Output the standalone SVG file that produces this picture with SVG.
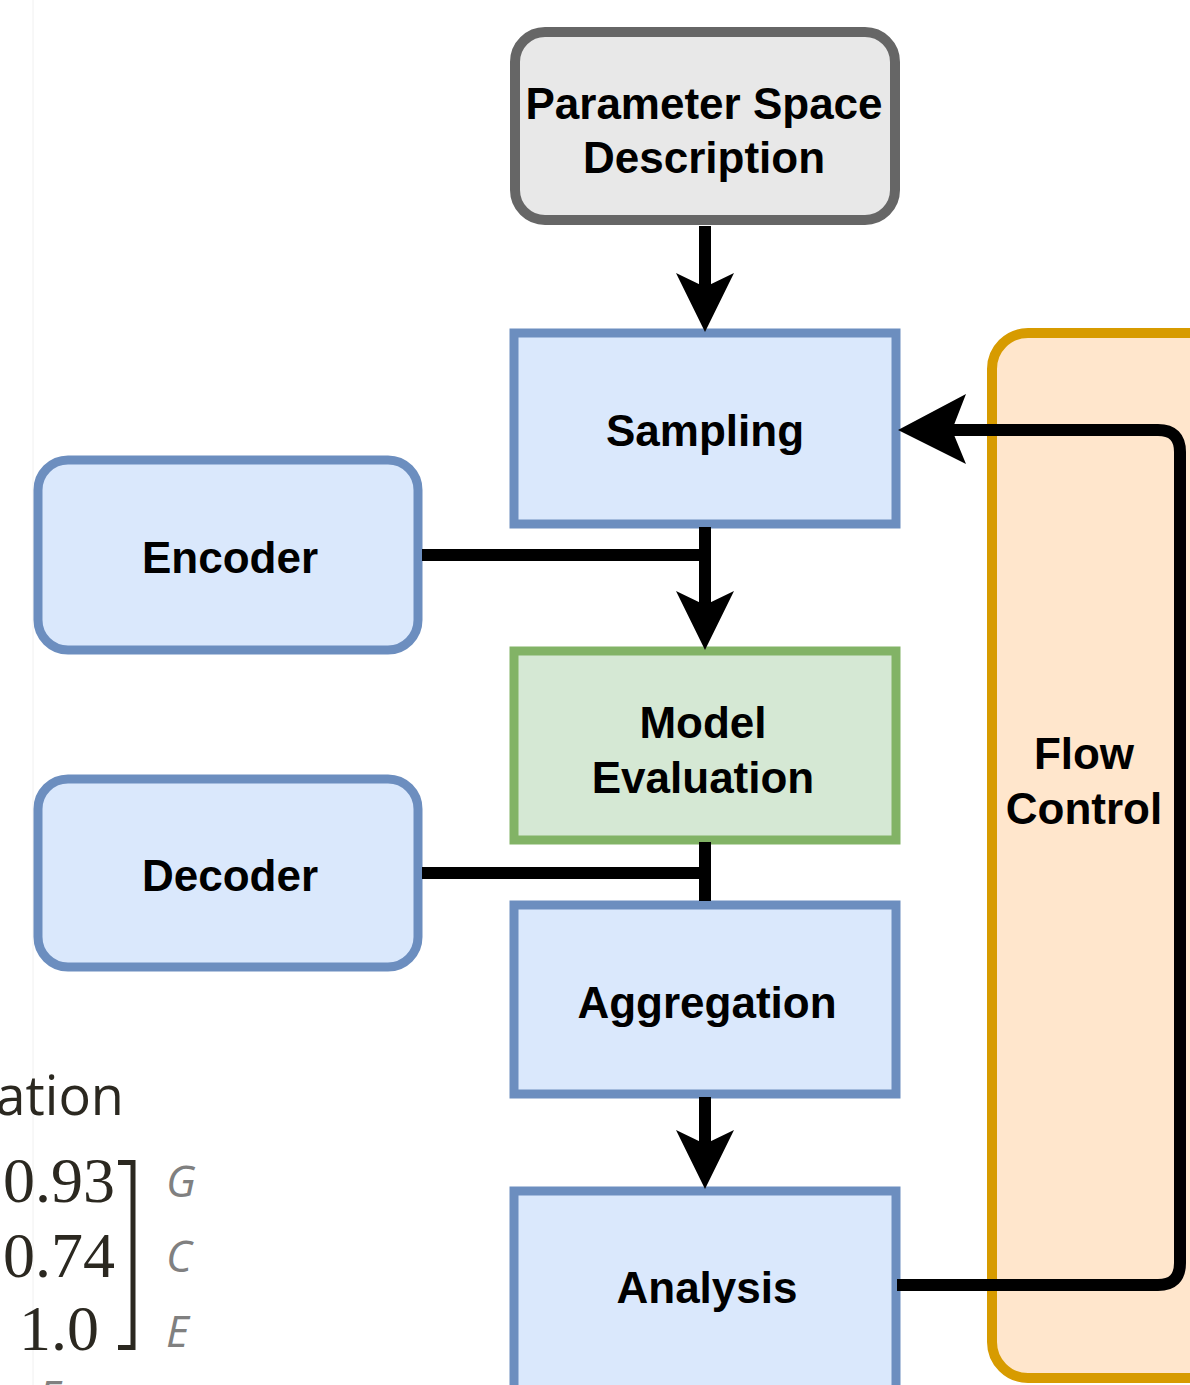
<svg xmlns="http://www.w3.org/2000/svg" width="1190" height="1385" viewBox="0 0 1190 1385">
  <style>
    .lbl { font-family: "Liberation Sans", Arial, sans-serif; font-weight: bold; font-size: 44px; fill: #000; text-anchor: middle; }
    .blue { fill: #dae8fc; stroke: #6c8ebf; stroke-width: 9; }
    .green { fill: #d5e8d4; stroke: #82b366; stroke-width: 9; }
    .grey { fill: #e8e8e8; stroke: #666666; stroke-width: 10; }
    .orange { fill: #ffe6cc; stroke: #d79b00; stroke-width: 10; }
    .wire { fill: none; stroke: #000; stroke-width: 12; }
    .head { fill: #000; stroke: none; }
    .num { font-family: "Liberation Serif", "Times New Roman", serif; font-size: 64px; fill: #2b2820; text-anchor: middle; }
    .var { font-family: "Open Sans", "Noto Sans", sans-serif; font-style: italic; font-size: 44px; fill: #808080; }
  </style>

  <rect width="1190" height="1385" fill="#ffffff"/>

  <!-- partial equation visible at lower left -->
  <g id="equation-fragment">
    <line x1="33" y1="0" x2="33" y2="1385" stroke="#f0f0f0" stroke-width="1"/>
    <text x="124" y="1115" font-family="'Open Sans', 'Noto Sans', sans-serif" font-size="54" fill="#2b2820" text-anchor="end">ation</text>
    <text class="num" x="59" y="1202">0.93</text>
    <text class="num" x="59" y="1277">0.74</text>
    <text class="num" x="59" y="1350">1.0</text>
    <path d="M118 1162.5 H133 V1347.5 H118" fill="none" stroke="#2b2820" stroke-width="5"/>
    <text class="var" x="166" y="1197">G</text>
    <text class="var" x="166" y="1272">C</text>
    <text class="var" x="166" y="1347">E</text>
    <text class="var" x="38" y="1412">E</text>
  </g>

  <!-- flow control column (drawn first so the loop passes over it) -->
  <g id="flow-control">
    <rect class="orange" x="992" y="333" width="260" height="1045" rx="36"/>
    <text class="lbl" x="1084" y="769">Flow</text>
    <text class="lbl" x="1084" y="824">Control</text>
  </g>

  <g id="parameter-space">
    <rect class="grey" x="515" y="32" width="380" height="188" rx="30"/>
    <text class="lbl" x="704" y="119">Parameter Space</text>
    <text class="lbl" x="704" y="173">Description</text>
  </g>

  <g id="sampling">
    <rect class="blue" x="514" y="333" width="382" height="191"/>
    <text class="lbl" x="705" y="446">Sampling</text>
  </g>

  <g id="encoder">
    <rect class="blue" x="38" y="460" width="380" height="190" rx="30"/>
    <text class="lbl" x="230" y="573">Encoder</text>
  </g>

  <g id="model-evaluation">
    <rect class="green" x="514" y="651" width="382" height="189"/>
    <text class="lbl" x="703" y="738">Model</text>
    <text class="lbl" x="703" y="793">Evaluation</text>
  </g>

  <g id="decoder">
    <rect class="blue" x="38" y="779" width="380" height="188" rx="30"/>
    <text class="lbl" x="230" y="891">Decoder</text>
  </g>

  <g id="aggregation">
    <rect class="blue" x="514" y="905" width="382" height="189"/>
    <text class="lbl" x="707" y="1018">Aggregation</text>
  </g>

  <g id="analysis">
    <rect class="blue" x="514" y="1191" width="382" height="230"/>
    <text class="lbl" x="707" y="1303">Analysis</text>
  </g>

  <g id="connectors">
    <!-- parameter space -> sampling -->
    <line class="wire" x1="705" y1="226" x2="705" y2="290"/>
    <polygon class="head" points="705,332 676,273 705,287 734,273"/>

    <!-- sampling -> model evaluation, with encoder joining -->
    <line class="wire" x1="705" y1="527" x2="705" y2="607"/>
    <line class="wire" x1="422" y1="555" x2="711" y2="555"/>
    <polygon class="head" points="705,650 676,591 705,605 734,591"/>

    <!-- model evaluation -> aggregation, with decoder joining -->
    <line class="wire" x1="705" y1="842" x2="705" y2="901"/>
    <line class="wire" x1="422" y1="873" x2="711" y2="873"/>

    <!-- aggregation -> analysis -->
    <line class="wire" x1="705" y1="1097" x2="705" y2="1148"/>
    <polygon class="head" points="705,1189 676,1130 705,1144 734,1130"/>

    <!-- analysis loops back to sampling -->
    <path class="wire" d="M897 1285 H1158 Q1180 1285 1180 1263 V452 Q1180 430 1158 430 H948"/>
    <polygon class="head" points="898,430 966,394 952,430 966,464"/>
  </g>
</svg>
